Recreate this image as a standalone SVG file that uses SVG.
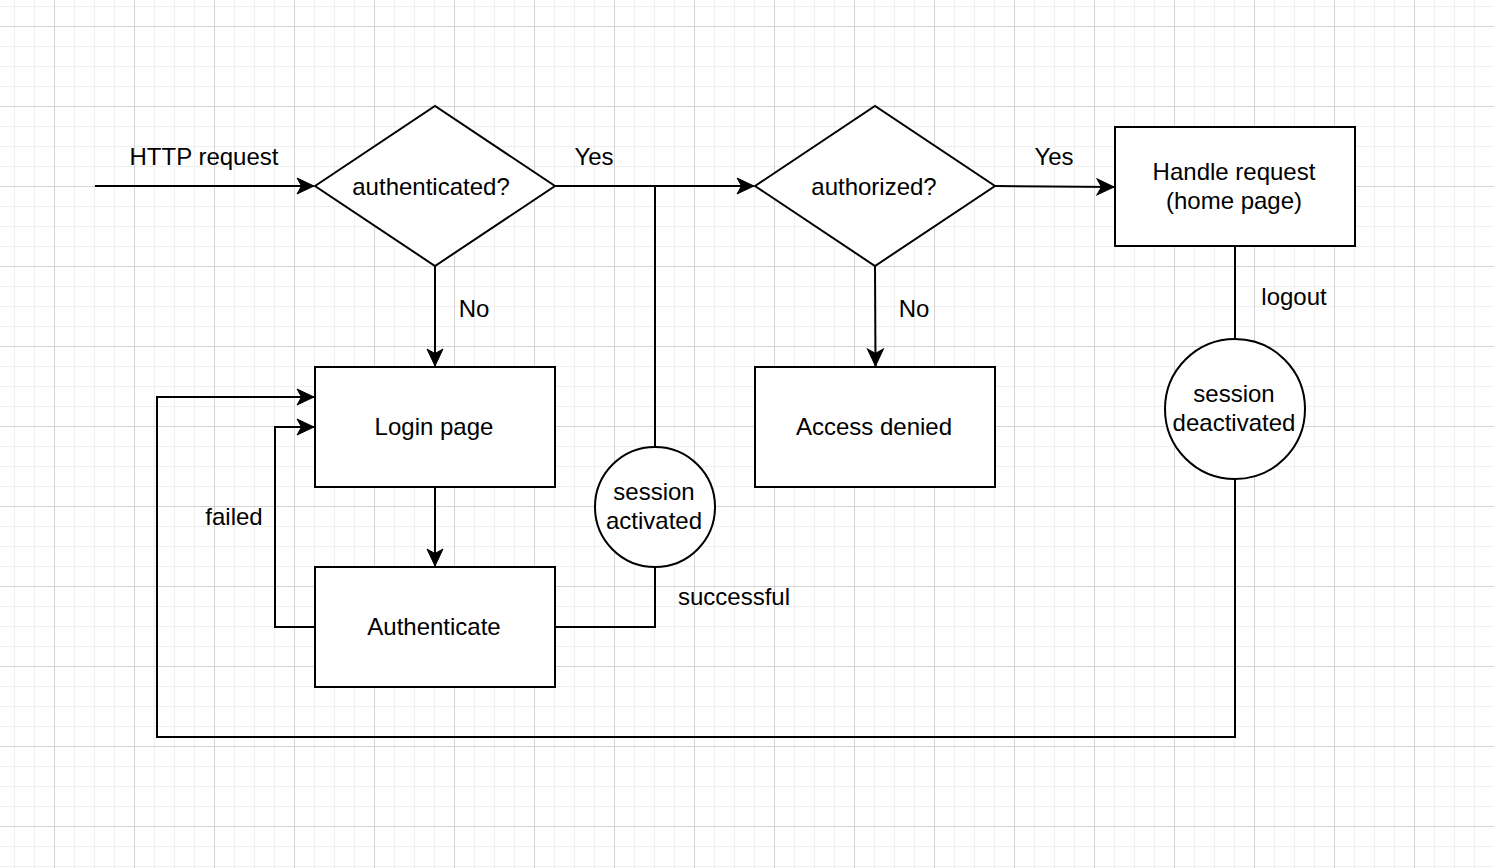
<svg xmlns="http://www.w3.org/2000/svg" width="1494" height="868" viewBox="0 0 1494 868">
<style>
.s{fill:#fff;stroke:#000;stroke-width:2}
.c{fill:none;stroke:#000;stroke-width:2}
text{font-family:"Liberation Sans",Arial,Helvetica,sans-serif;font-size:24px;fill:#000;text-anchor:middle}
</style>
<defs>
<pattern id="minor" patternUnits="userSpaceOnUse" x="14" y="6" width="20" height="20">
<path d="M0.5,0V20M0,0.5H20" stroke="#f0f0f0" stroke-width="1" fill="none"/>
</pattern>
<pattern id="major" patternUnits="userSpaceOnUse" x="54" y="26" width="80" height="80">
<path d="M0.5,0V80M0,0.5H80" stroke="#d4d4d4" stroke-width="1" fill="none"/>
</pattern>
<marker id="arr" markerUnits="userSpaceOnUse" viewBox="-18 -9 19 18" refX="0" refY="0" markerWidth="19" markerHeight="18" orient="auto" overflow="visible">
<path d="M0,0 L-17,-8 L-12.5,0 L-17,8 Z" fill="#000" stroke="#000" stroke-width="1"/>
</marker>
</defs>
<rect width="1494" height="868" fill="#fff"/>
<rect width="1494" height="868" fill="url(#minor)"/>
<rect width="1494" height="868" fill="url(#major)"/>

<g id="connectors">
<path class="c" d="M95,186H314" marker-end="url(#arr)"/>
<path class="c" d="M555,186H754" marker-end="url(#arr)"/>
<path class="c" d="M435,266V366" marker-end="url(#arr)"/>
<path class="c" d="M995,186L1114,187" marker-end="url(#arr)"/>
<path class="c" d="M875,266L875.5,366" marker-end="url(#arr)"/>
<path class="c" d="M435,487V566" marker-end="url(#arr)"/>
<path class="c" d="M315,627H275V427H314" marker-end="url(#arr)"/>
<path class="c" d="M555,627H655V567"/>
<path class="c" d="M655,447V186"/>
<path class="c" d="M1235,246V339"/>
<path class="c" d="M1235,479V737H157V397H314" marker-end="url(#arr)"/>
<text x="204" y="165">HTTP request</text>
<text x="594" y="165">Yes</text>
<text x="474" y="317">No</text>
<text x="1054" y="165">Yes</text>
<text x="914" y="317">No</text>
<text x="234" y="525">failed</text>
<text x="734" y="605">successful</text>
<text x="1294" y="305">logout</text>
</g>

<g id="authenticated">
<path class="s" d="M315,186L435,106L555,186L435,266Z"/>
<text x="431" y="195">authenticated?</text>
</g>
<g id="authorized">
<path class="s" d="M755,186L875,106L995,186L875,266Z"/>
<text x="874" y="195">authorized?</text>
</g>
<g id="handle-request">
<rect class="s" x="1115" y="127" width="240" height="119"/>
<text x="1234" y="180">Handle request</text>
<text x="1234" y="209">(home page)</text>
</g>
<g id="login-page">
<rect class="s" x="315" y="367" width="240" height="120"/>
<text x="434" y="435">Login page</text>
</g>
<g id="access-denied">
<rect class="s" x="755" y="367" width="240" height="120"/>
<text x="874" y="435">Access denied</text>
</g>
<g id="authenticate">
<rect class="s" x="315" y="567" width="240" height="120"/>
<text x="434" y="635">Authenticate</text>
</g>
<g id="session-activated">
<circle class="s" cx="655" cy="507" r="60"/>
<text x="654" y="500">session</text>
<text x="654" y="529">activated</text>
</g>
<g id="session-deactivated">
<circle class="s" cx="1235" cy="409" r="70"/>
<text x="1234" y="402">session</text>
<text x="1234" y="431">deactivated</text>
</g>
</svg>
